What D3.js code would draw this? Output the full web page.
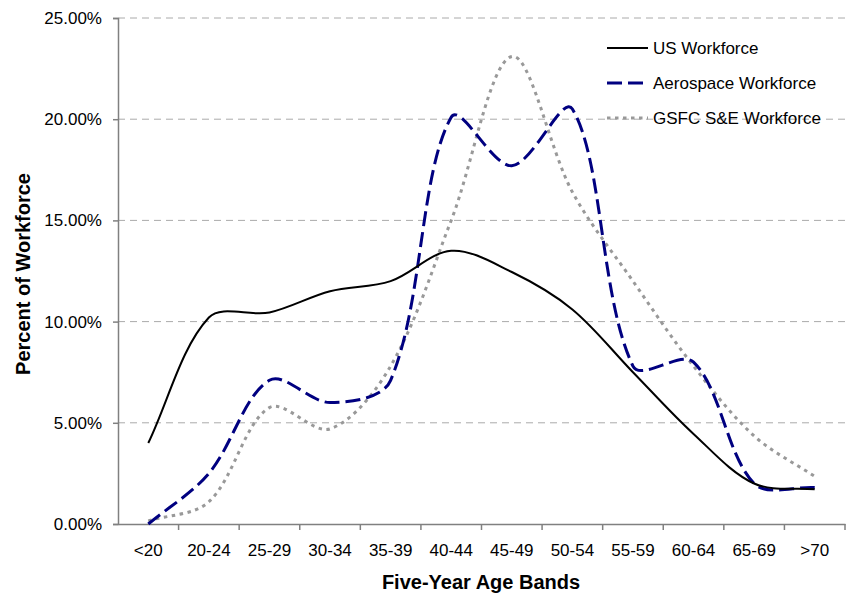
<!DOCTYPE html>
<html>
<head>
  <title>Workforce Age Distribution</title>
  <script src="https://d3js.org/d3.v7.min.js"></script>
  <style>
    body { margin: 0; background: #fff; font-family: Arial, 'Liberation Sans', sans-serif; }
    svg text { fill: #000; }
  </style>
</head>
<body>
  <div id="chart"></div>

  <script>
    // age bands on the x axis
    const ageBands = ["<20", "20-24", "25-29", "30-34", "35-39", "40-44", "45-49", "50-54", "55-59", "60-64", "65-69", ">70"];

    // percent of workforce in each band
    const usWorkforce = [4.0, 10.2, 10.45, 11.5, 12.0, 13.5, 12.45, 10.6, 7.5, 4.45, 2.0, 1.72];
    const aerospaceWorkforce = [0.0, 2.5, 7.1, 6.0, 7.1, 20.1, 17.7, 20.5, 7.8, 8.0, 2.0, 1.8];
    const gsfcWorkforce = [0.15, 1.1, 5.75, 4.7, 7.8, 15.0, 23.1, 16.4, 12.0, 7.8, 4.35, 2.35];

    const yTicks = [0, 5, 10, 15, 20, 25];

    const width = 846;
    const height = 595;
    const margin = { top: 18, right: 1, bottom: 71, left: 118 };

    // spreadsheet style smoothing: bezier segments whose control points
    // are weighted by the length of the neighbouring chords
    function SmoothCurve(context) { this._context = context; }
    SmoothCurve.prototype = {
      areaStart: function() {},
      areaEnd: function() {},
      lineStart: function() { this._pts = []; },
      point: function(x, y) { this._pts.push([+x, +y]); },
      lineEnd: function() {
        const p = this._pts, n = p.length, ctx = this._context;
        if (!n) return;
        ctx.moveTo(p[0][0], p[0][1]);
        const dist = (a, b) => Math.hypot(b[0] - a[0], b[1] - a[1]);
        for (let i = 0; i < n - 1; i++) {
          const p0 = p[i - 1] || p[i], p1 = p[i], p2 = p[i + 1], p3 = p[i + 2] || p[i + 1];
          const d01 = dist(p0, p1), d12 = dist(p1, p2), d23 = dist(p2, p3);
          const f1 = d01 + d12 > 0 ? d12 / (d01 + d12) / 3 : 0;
          const f2 = d12 + d23 > 0 ? d12 / (d12 + d23) / 3 : 0;
          ctx.bezierCurveTo(
            p1[0] + (p2[0] - p0[0]) * f1, p1[1] + (p2[1] - p0[1]) * f1,
            p2[0] - (p3[0] - p1[0]) * f2, p2[1] - (p3[1] - p1[1]) * f2,
            p2[0], p2[1]);
        }
      }
    };
    const curveSmooth = context => new SmoothCurve(context);

    const svg = d3.select("#chart")
      .append("svg")
      .attr("width", width)
      .attr("height", height);

    const x = d3.scaleBand()
      .domain(ageBands)
      .range([margin.left, width - margin.right]);

    const y = d3.scaleLinear()
      .domain([0, 25])
      .range([height - margin.bottom, margin.top]);

    // dashed gridlines
    svg.append("g")
      .selectAll("line")
      .data(yTicks.filter(d => d > 0))
      .join("line")
      .attr("x1", margin.left)
      .attr("x2", width - margin.right)
      .attr("y1", d => y(d))
      .attr("y2", d => y(d))
      .attr("stroke", "#aaa")
      .attr("stroke-width", 1)
      .attr("stroke-dasharray", "7,5");

    // y axis
    const yAxis = svg.append("g")
      .attr("transform", "translate(" + margin.left + ",0)")
      .call(d3.axisLeft(y)
        .tickValues(yTicks)
        .tickSize(5)
        .tickPadding(11)
        .tickFormat(d => d.toFixed(2) + "%"));

    yAxis.select(".domain").attr("stroke", "#808080").attr("stroke-width", 1.5);
    yAxis.selectAll(".tick line").attr("stroke", "#808080").attr("stroke-width", 1.5);
    yAxis.selectAll(".tick text")
      .attr("font-size", "17px")
      .attr("font-family", "Arial, 'Liberation Sans', sans-serif")
      .attr("fill", "#000");

    // x axis: labels at band centres, ticks between bands
    const xAxis = svg.append("g")
      .attr("transform", "translate(0," + (height - margin.bottom) + ")")
      .call(d3.axisBottom(x).tickSize(0).tickPadding(20));

    xAxis.select(".domain").attr("stroke", "#808080").attr("stroke-width", 1.5);
    xAxis.selectAll(".tick text")
      .attr("font-size", "17px")
      .attr("font-family", "Arial, 'Liberation Sans', sans-serif")
      .attr("fill", "#000");

    xAxis.append("g")
      .selectAll("line")
      .data(ageBands)
      .join("line")
      .attr("x1", d => x(d) + x.bandwidth())
      .attr("x2", d => x(d) + x.bandwidth())
      .attr("y1", 0)
      .attr("y2", 6)
      .attr("stroke", "#808080")
      .attr("stroke-width", 1.5);

    // series
    const series = [
      { name: "US Workforce", values: usWorkforce, color: "#000", width: 2, dash: null },
      { name: "Aerospace Workforce", values: aerospaceWorkforce, color: "#000080", width: 3, dash: "15,6" },
      { name: "GSFC S&E Workforce", values: gsfcWorkforce, color: "#999", width: 3, dash: "3.5,4.5" }
    ];

    const line = d3.line()
      .x((d, i) => x(ageBands[i]) + x.bandwidth() / 2)
      .y(d => y(d))
      .curve(curveSmooth);

    // draw back to front so the US line sits on top
    series.slice().reverse().forEach(function(s) {
      svg.append("path")
        .datum(s.values)
        .attr("fill", "none")
        .attr("stroke", s.color)
        .attr("stroke-width", s.width)
        .attr("stroke-dasharray", s.dash)
        .attr("d", line);
    });

    // legend
    const legend = svg.append("g");
    const legendY = [48, 83, 118];

    series.forEach(function(s, i) {
      legend.append("line")
        .attr("x1", 607)
        .attr("x2", 648)
        .attr("y1", legendY[i])
        .attr("y2", legendY[i])
        .attr("stroke", s.color)
        .attr("stroke-width", s.width)
        .attr("stroke-dasharray", s.dash);

      legend.append("text")
        .attr("x", 653)
        .attr("y", legendY[i])
        .attr("dy", "0.35em")
        .attr("font-size", "17px")
        .text(s.name);
    });

    // axis titles
    svg.append("text")
      .attr("x", 481)
      .attr("y", 589)
      .attr("text-anchor", "middle")
      .attr("font-size", "20px")
      .attr("font-weight", "bold")
      .text("Five-Year Age Bands");

    svg.append("text")
      .attr("transform", "translate(30,274) rotate(-90)")
      .attr("text-anchor", "middle")
      .attr("font-size", "20px")
      .attr("font-weight", "bold")
      .text("Percent of Workforce");
  </script>
</body>
</html>
